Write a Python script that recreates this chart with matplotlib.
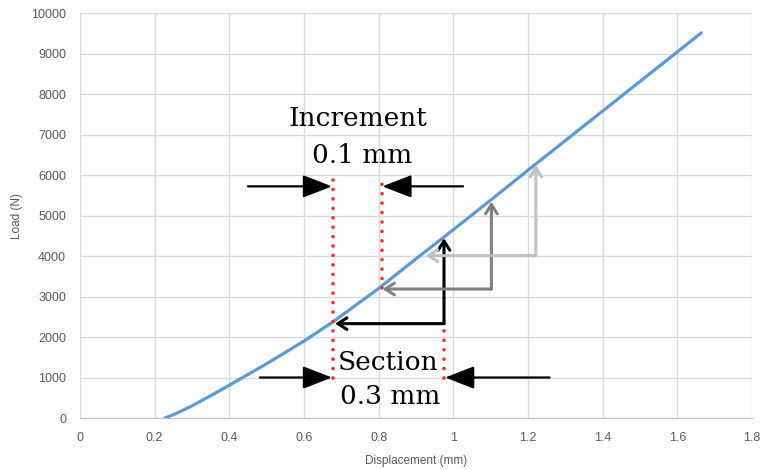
import matplotlib.pyplot as plt

# load-displacement curve
disp = [0.228, 0.26, 0.3, 0.35, 0.4, 0.5, 0.6, 0.677, 0.8, 0.9, 1.0, 1.1, 1.2, 1.3, 1.4, 1.5, 1.6, 1.664]
load = [0, 120, 300, 550, 810, 1340, 1900, 2370, 3200, 3930, 4650, 5380, 6120, 6850, 7580, 8310, 9040, 9510]

xticks = [0, 0.2, 0.4, 0.6, 0.8, 1, 1.2, 1.4, 1.6, 1.8]
xticklabels = ['0', '0.2', '0.4', '0.6', '0.8', '1', '1.2', '1.4', '1.6', '1.8']
yticks = list(range(0, 10001, 1000))

# red dotted guides: x, y from, y to
guides = [(0.677, 1000, 5900), (0.808, 3210, 5900), (0.975, 1000, 2330)]

# step arrows: corner x, corner y, left end x, top y, colour
steps = [(0.975, 2330, 0.683, 4440, 'black'),
         (1.102, 3185, 0.81, 5340, '#808080'),
         (1.221, 4010, 0.926, 6250, '#c0c0c0')]

# big pointer arrows: (from, to)
pointers = [((0.45, 5720), (0.675, 5720)), ((1.026, 5720), (0.81, 5720)),
            ((0.482, 1000), (0.675, 1000)), ((1.258, 1000), (0.978, 1000))]

fig = plt.figure(figsize=(7.63, 4.70), dpi=100)
ax = fig.add_axes([0.1048, 0.1106, 0.8808, 0.8617])

ax.plot(disp, load, color='#5b9bd5', lw=2.3, solid_capstyle='round', zorder=3)

ax.set_xlim(0, 1.8)
ax.set_ylim(0, 10000)
ax.set_xticks(xticks)
ax.set_xticklabels(xticklabels)
ax.set_yticks(yticks)
ax.grid(True, color='#d9d9d9', lw=1)
ax.set_axisbelow(True)
for s in ['left', 'top', 'right']:
    ax.spines[s].set_visible(False)
ax.spines['bottom'].set_color('#bfbfbf')
ax.tick_params(length=0, labelsize=9, labelcolor='#595959', pad=10)
for lab in ax.get_xticklabels() + ax.get_yticklabels():
    lab.set_fontfamily('Liberation Sans')
ax.set_xlabel('Displacement (mm)', fontsize=8.5, color='#595959', family='Liberation Sans', labelpad=8)
ax.set_ylabel('Load (N)', fontsize=8.5, color='#595959', family='Liberation Sans')
ax.yaxis.set_label_coords(-0.085, 0.5)

for gx, y0, y1 in guides:
    ax.plot([gx, gx], [y0, y1], color='#ff2a2a', lw=2.6, ls=(0, (0.01, 2.6)),
            dash_capstyle='round', zorder=4)

for cx, cy, lx, ty, col in steps:
    ap = dict(arrowstyle='->,head_length=0.55,head_width=0.35', color=col, lw=2.2,
              shrinkA=0, shrinkB=0, mutation_scale=12)
    ax.annotate('', xy=(lx, cy), xytext=(cx, cy), arrowprops=ap, zorder=5)
    ax.annotate('', xy=(cx, ty), xytext=(cx, cy), arrowprops=ap, zorder=5)

for p0, p1 in pointers:
    ax.annotate('', xy=p1, xytext=p0,
                arrowprops=dict(arrowstyle='-|>,head_length=0.9,head_width=0.35',
                                color='black', lw=1.6, shrinkA=0, shrinkB=0,
                                mutation_scale=20), zorder=5)

tk = dict(family='DejaVu Serif', fontsize=19, ha='center', va='center', color='black')
ax.text(0.745, 7400, 'Increment', **tk)
ax.text(0.755, 6480, '0.1 mm', **tk)
ax.text(0.825, 1380, 'Section', **tk, zorder=6)
ax.text(0.83, 520, '0.3 mm', **tk, zorder=6)

fig.savefig('out.png', dpi=100)
